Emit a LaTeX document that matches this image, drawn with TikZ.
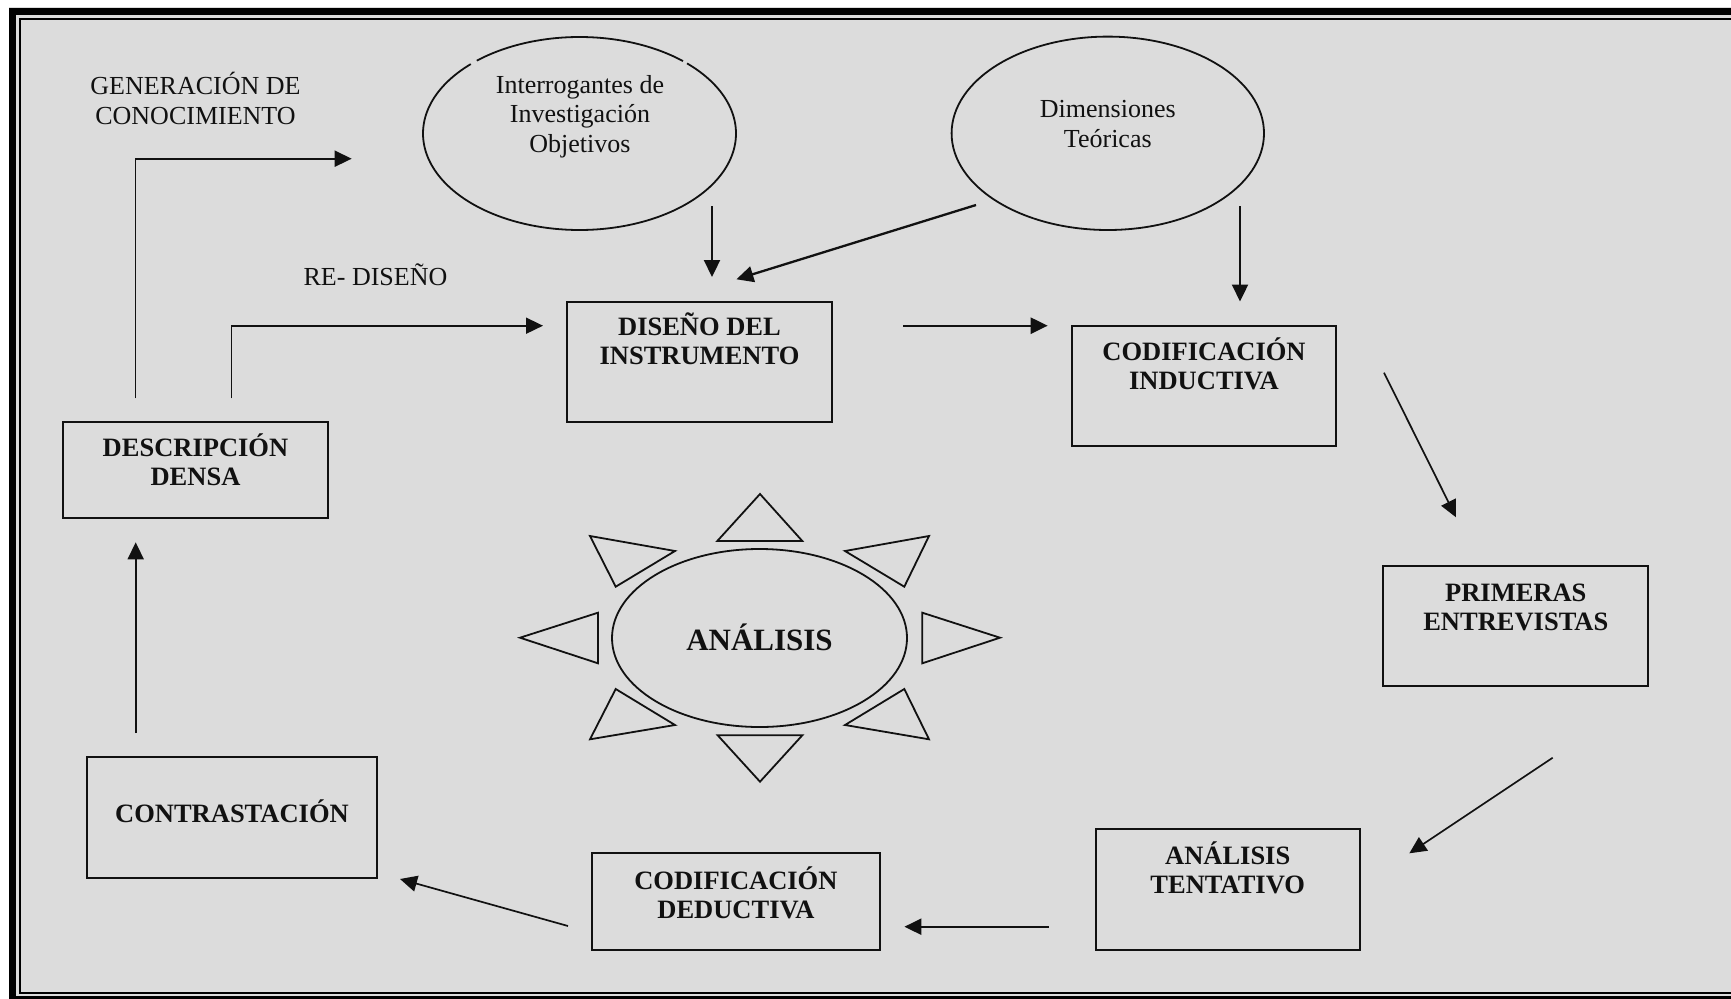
\documentclass[tikz,border=0pt]{standalone}
\usepackage{fontspec}
\setmainfont{Liberation Serif}
\usetikzlibrary{arrows.meta,shapes.geometric}
\definecolor{panel}{HTML}{DCDCDC}
\definecolor{ink}{HTML}{111111}
\begin{document}
\begin{tikzpicture}[x=1pt,y=-1pt,
  every node/.style={inner sep=0pt, outer sep=0pt, text=ink},
  plain/.style={font=\fontsize{26}{29.5}\selectfont, align=center},
  heavy/.style={font=\bfseries\fontsize{26.5}{29}\selectfont, align=center},
  stepbox/.style={draw=ink, line width=2pt, rectangle},
  oval/.style={draw=ink, line width=1.8pt, ellipse},
  ray/.style={draw=ink, line width=1.8pt, line join=miter},
  flow/.style={draw=ink, line width=1.7pt, -{Triangle[length=17pt,width=16pt]}},
  boldflow/.style={flow, line width=2.3pt},
]
\useasboundingbox (0,0) rectangle (1731,998);
\clip (0,0) rectangle (1731,998);

% page, panel and double frame
\fill[white] (0,0) rectangle (1731,998);
\fill[panel] (9,7) rectangle (1760,1020);
\draw[black, line width=7pt] (12.8,11.2) rectangle (1760,999.5);
\draw[black, line width=1.8pt] (20,19) rectangle (1745,993);

% free labels
\node[plain] (gen) at (195.5,98.5) {GENERACIÓN DE\\CONOCIMIENTO};
\node[plain] (red) at (375.5,274.7) {RE- DISEÑO};

% research questions oval (outline with two small breaks)
\draw[ink, line width=1.8pt] plot[domain=313.4:586, samples=160]
  ({579.5+156.5*cos(\x)}, {133.5+96.5*sin(\x)});
\draw[ink, line width=1.8pt] plot[domain=229:311.4, samples=60]
  ({579.5+156.5*cos(\x)}, {133.5+96.5*sin(\x)});
\node[plain] (intq) at (580,116.4) {Interrogantes de\\Investigación\\Objetivos};

% theoretical dimensions oval
\node[oval, minimum width=312.4pt, minimum height=193.4pt] (dim) at (1107.8,133.3) {};
\node[plain] (dimq) at (1107.8,124.2) {Dimensiones\\Teóricas};

% process boxes
\node[stepbox, minimum width=265pt, minimum height=120.2pt] (dis) at (699.5,361.6) {};
\node[heavy] (dist) at (699.5,339.2) {DISEÑO DEL\\INSTRUMENTO};

\node[stepbox, minimum width=264pt, minimum height=120.3pt] (ind) at (1204,385.9) {};
\node[heavy] (indt) at (1204,363.8) {CODIFICACIÓN\\INDUCTIVA};

\node[stepbox, minimum width=264.5pt, minimum height=96.6pt] (des) at (195.5,470) {};
\node[heavy] (dest) at (195.5,460.2) {DESCRIPCIÓN\\DENSA};

\node[stepbox, minimum width=265pt, minimum height=120.3pt] (pri) at (1515.8,625.9) {};
\node[heavy] (prit) at (1515.8,607.2) {PRIMERAS\\ENTREVISTAS};

\node[stepbox, minimum width=264pt, minimum height=120.7pt] (ten) at (1227.7,889.7) {};
\node[heavy] (tent) at (1227.7,868.3) {ANÁLISIS\\TENTATIVO};

\node[stepbox, minimum width=288pt, minimum height=96.7pt] (ded) at (735.9,901.7) {};
\node[heavy] (dedt) at (735.9,893.3) {CODIFICACIÓN\\DEDUCTIVA};

\node[stepbox, minimum width=289.4pt, minimum height=121pt] (con) at (232,817.8) {};
\node[heavy] (cont) at (232,810.8) {CONTRASTACIÓN};

% central analysis sun
\node[oval, minimum width=295pt, minimum height=178pt] (ana) at (759.5,638) {};
\node[font=\bfseries\fontsize{31}{36}\selectfont] (anat) at (759.5,637.8) {ANÁLISIS};
\draw[ray] (717.3,541) -- (760,494) -- (802.3,541) -- cycle;
\draw[ray] (717.7,735.3) -- (802.3,735.3) -- (760,781.7) -- cycle;
\draw[ray] (598,612.7) -- (598,663.3) -- (520,637.7) -- cycle;
\draw[ray] (922.3,612.7) -- (922.3,663.3) -- (1000,637.7) -- cycle;
\draw[ray] (590,536) -- (675,551) -- (615.7,586.7) -- cycle;
\draw[ray] (929,536) -- (845,551) -- (904.3,586.7) -- cycle;
\draw[ray] (615.7,689) -- (675,725) -- (590,739.3) -- cycle;
\draw[ray] (904.3,689) -- (845,725) -- (929,739.3) -- cycle;

% connector end points
\coordinate (q1) at (712,206);      \coordinate (q2) at (712,277);
\coordinate (d1) at (976,205);      \coordinate (d2) at (736.4,279.3);
\coordinate (d3) at (1240,206);     \coordinate (d4) at (1240,301.5);
\coordinate (s1) at (903,325.7);    \coordinate (s2) at (1047.7,325.7);
\coordinate (g1) at (135.5,398.3);  \coordinate (g2) at (135.5,158.7);
\coordinate (g3) at (351.7,158.7);
\coordinate (r1) at (231.6,398.3);  \coordinate (r2) at (231.6,325.7);
\coordinate (r3) at (543,325.7);
\coordinate (i1) at (1384,372.7);   \coordinate (i2) at (1456,517.3);
\coordinate (p1) at (1552.7,757.7); \coordinate (p2) at (1409.3,853.3);
\coordinate (t1) at (1048.5,926.7); \coordinate (t2) at (904.4,926.7);
\coordinate (c1) at (568,926);      \coordinate (c2) at (400,879);
\coordinate (k1) at (135.7,733);    \coordinate (k2) at (135.7,542.3);

% connectors
\draw[boldflow] (q1) -- (q2);
\draw[boldflow] (d1) -- (d2);
\draw[boldflow] (d3) -- (d4);
\draw[boldflow] (s1) -- (s2);
\draw[flow] (g1) -- (g2) -- (g3);
\draw[flow] (r1) -- (r2) -- (r3);
\draw[flow] (i1) -- (i2);
\draw[flow] (p1) -- (p2);
\draw[boldflow] (t1) -- (t2);
\draw[flow] (c1) -- (c2);
\draw[flow] (k1) -- (k2);
\end{tikzpicture}
\end{document}
